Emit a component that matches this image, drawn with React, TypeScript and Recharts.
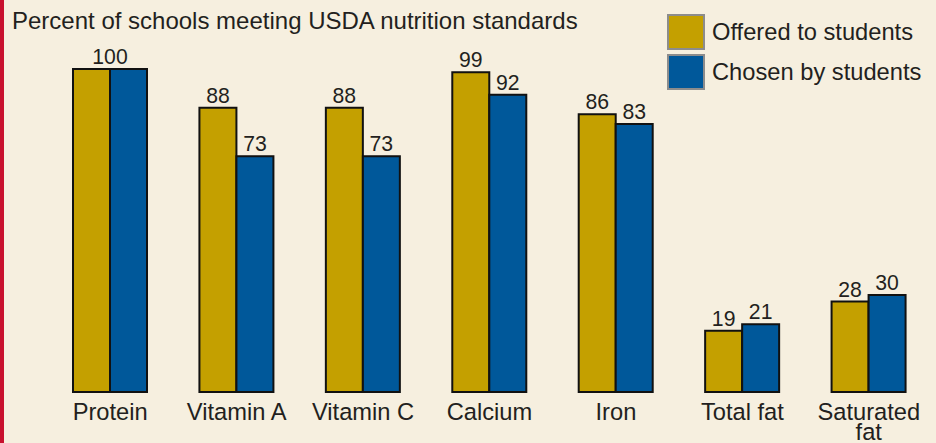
import React from 'react';
import { BarChart, Bar, XAxis, YAxis, LabelList, Legend } from 'recharts';

const categories = ['Protein', 'Vitamin A', 'Vitamin C', 'Calcium', 'Iron', 'Total fat', 'Saturated fat'];
const offered = [100, 88, 88, 99, 86, 19, 28];
const chosen = [100, 73, 73, 92, 83, 21, 30];
const seriesNames = ['Offered to students', 'Chosen by students'];
const title = 'Percent of schools meeting USDA nutrition standards';

const GOLD = '#c4a000';
const BLUE = '#00589a';
const TEXT = '#231f20';
const FONT = '"Liberation Sans", Arial, Helvetica, sans-serif';
const TICK_FS = 23.7;
const LABEL_FS = 21.2;

const data = categories.map((c, i) => ({ name: c, offered: offered[i], chosen: chosen[i] }));

const wrapLabel = (s: string): string[] => (s === 'Saturated fat' ? ['Saturated', 'fat'] : [s]);

const Tick = (props: any) => {
  const { x, y, payload } = props;
  const lines = wrapLabel(String(payload.value));
  return (
    <g>
      {lines.map((l, i) => (
        <text
          key={i}
          x={x}
          y={y}
          dy={20 + i * 20}
          textAnchor="middle"
          fill={TEXT}
          fontSize={TICK_FS}
          fontFamily={FONT}
        >
          {l}
        </text>
      ))}
    </g>
  );
};

// When both series share a value, the reference shows one label centred over the pair.
const makeLabel = (series: 'offered' | 'chosen') => (props: any) => {
  const { x, y, width, value, index } = props;
  const same = offered[index] === chosen[index];
  if (same && series === 'chosen') return null;
  const cx = same ? x + width : x + width / 2;
  return (
    <text x={cx} y={y - 5} textAnchor="middle" fill={TEXT} fontSize={LABEL_FS} fontFamily={FONT}>
      {value}
    </text>
  );
};

const LegendContent = () => {
  const colors = [GOLD, BLUE];
  return (
    <div style={{ fontFamily: FONT }}>
      {seriesNames.map((n, i) => (
        <div key={n} style={{ display: 'flex', alignItems: 'center', height: 40 }}>
          <div
            style={{
              width: 34,
              height: 32,
              background: colors[i],
              border: '2px solid #8c8c8c',
              boxSizing: 'content-box',
              marginRight: 7,
            }}
          />
          <span style={{ fontSize: TICK_FS, color: TEXT }}>{n}</span>
        </div>
      ))}
    </div>
  );
};

export default function App() {
  return (
    <div
      style={{
        position: 'fixed',
        left: 0,
        top: 0,
        width: 936,
        height: 443,
        background: '#f6efdf',
        overflow: 'hidden',
      }}
    >
      <div style={{ position: 'absolute', left: 0, top: 0, width: 4, height: 443, background: '#c8102e' }} />
      <div
        style={{
          position: 'absolute',
          left: 12,
          top: 7,
          fontFamily: FONT,
          fontSize: 24,
          color: TEXT,
          whiteSpace: 'nowrap',
        }}
      >
        {title}
      </div>
      <BarChart
        width={936}
        height={443}
        data={data}
        margin={{ top: 69, right: 4, bottom: 6, left: 47 }}
        barGap={0}
        style={{ position: 'absolute', left: 0, top: 0 }}
      >
        <XAxis
          dataKey="name"
          axisLine={false}
          tickLine={false}
          interval={0}
          height={45}
          tick={<Tick />}
        />
        <YAxis hide domain={[0, 100]} />
        <Legend
          layout="vertical"
          align="center"
          verticalAlign="middle"
          content={<LegendContent />}
          wrapperStyle={{ top: 12, left: 667, width: 269 }}
        />
        <Bar dataKey="offered" name={seriesNames[0]} fill={GOLD} stroke="#111" strokeWidth={2} barSize={37} isAnimationActive={false}>
          <LabelList dataKey="offered" content={makeLabel('offered')} />
        </Bar>
        <Bar dataKey="chosen" name={seriesNames[1]} fill={BLUE} stroke="#111" strokeWidth={2} barSize={37} isAnimationActive={false}>
          <LabelList dataKey="chosen" content={makeLabel('chosen')} />
        </Bar>
      </BarChart>
    </div>
  );
}
